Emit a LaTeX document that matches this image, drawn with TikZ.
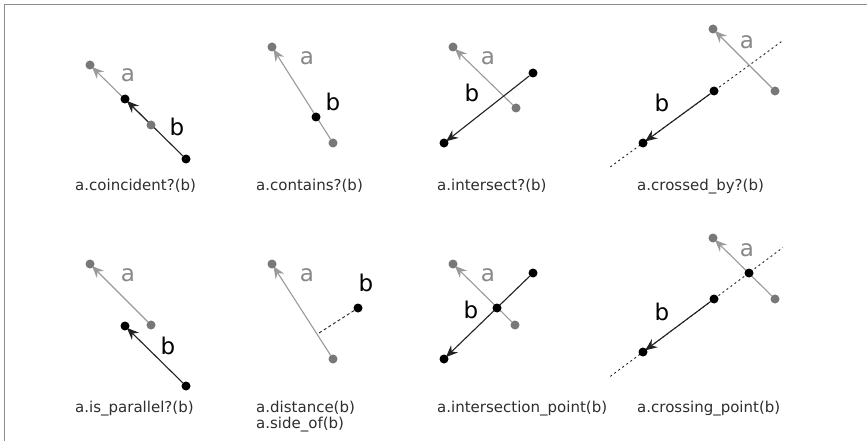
\documentclass[tikz,border=0pt]{standalone}
\usepackage{fontspec}
\setmainfont{DejaVu Sans}
\usetikzlibrary{arrows.meta,calc}
\definecolor{lgray}{HTML}{9A9A9A}
\definecolor{dgray}{HTML}{787878}
\definecolor{agray}{HTML}{888888}
\definecolor{bblack}{HTML}{222222}
\definecolor{framec}{HTML}{8C8C8C}
\pgfdeclarelayer{bg}
\pgfdeclarelayer{paper}
\pgfsetlayers{paper,bg,main}
\begin{document}
\begin{tikzpicture}[x=1pt,y=-1pt,
 gdot/.style={circle,fill=dgray,inner sep=0pt,minimum size=9pt},
 bdot/.style={circle,fill=black,inner sep=0pt,minimum size=9pt},
 aline/.style={draw=lgray,line width=1.1pt},
 bline/.style={draw=bblack,line width=1.1pt},
 atip/.style={-{Stealth[length=12pt,width=10pt,inset=4pt]},shorten >=-2pt},
 albl/.style={text=agray,font=\fontsize{23}{23}\selectfont,inner sep=0pt},
 blbl/.style={text=black,font=\fontsize{23}{23}\selectfont,inner sep=0pt},
 captxt/.style={anchor=base west,font=\fontsize{15}{16}\selectfont,text=black!82,inner sep=0pt},
 dotln/.style={draw=bblack,line width=0.9pt,dash pattern=on 2pt off 3pt}]
\useasboundingbox (0,0) rectangle (867,441);
\begin{pgfonlayer}{paper}
\fill[white] (0,0) rectangle (867,441);
\draw[framec,line width=1.3pt] (4.5,441) -- (4.5,4.5) -- (867,4.5);
\end{pgfonlayer}

% Panel 1: coincident
\node[gdot] (a1s) at (151,125) {};
\node[gdot] (a1e) at (90,65) {};
\node[bdot] (b1s) at (186,159) {};
\node[bdot] (b1e) at (125,99) {};
\begin{pgfonlayer}{bg}
\draw[aline,atip] (a1s) -- (a1e);
\draw[bline,atip] (b1s) -- (b1e);
\end{pgfonlayer}
\node[albl] (la1) at (128,75) {a};
\node[blbl] (lb1) at (177,127) {b};
\node[captxt] (c1) at (75,190) {a.coincident?(b)};

% Panel 2: contains
\node[gdot] (a2s) at (333,143) {};
\node[gdot] (a2e) at (272,47) {};
\node[bdot] (b2) at (316,117) {};
\begin{pgfonlayer}{bg}
\draw[aline,atip] (a2s) -- (a2e);
\end{pgfonlayer}
\node[albl] (la2) at (307,58) {a};
\node[blbl] (lb2) at (333,102) {b};
\node[captxt] (c2) at (256,190) {a.contains?(b)};

% Panel 3: intersect
\node[gdot] (a3s) at (516,108) {};
\node[gdot] (a3e) at (453,47) {};
\node[bdot] (b3s) at (533,73) {};
\node[bdot] (b3e) at (444,143) {};
\begin{pgfonlayer}{bg}
\draw[aline,atip] (a3s) -- (a3e);
\draw[bline,atip] (b3s) -- (b3e);
\end{pgfonlayer}
\node[albl] (la3) at (488,58) {a};
\node[blbl] (lb3) at (472,93) {b};
\node[captxt] (c3) at (437,190) {a.intersect?(b)};

% Panel 4: crossed_by
\node[gdot] (a4s) at (775,91) {};
\node[gdot] (a4e) at (713,29) {};
\node[bdot] (b4s) at (714,91) {};
\node[bdot] (b4e) at (643,143) {};
\coordinate (d4s) at ($(b4s)!1.46!(b4e)$);
\coordinate (d4e) at ($(b4e)!1.97!(b4s)$);
\begin{pgfonlayer}{bg}
\draw[dotln] (d4s) -- (d4e);
\draw[aline,atip] (a4s) -- (a4e);
\draw[bline,atip] (b4s) -- (b4e);
\end{pgfonlayer}
\node[albl] (la4) at (747,42) {a};
\node[blbl] (lb4) at (662,103) {b};
\node[captxt] (c4) at (637,190) {a.crossed\_by?(b)};

% Panel 5: is_parallel
\node[gdot] (a5s) at (151,325) {};
\node[gdot] (a5e) at (90,264) {};
\node[bdot] (b5s) at (186,386) {};
\node[bdot] (b5e) at (125,326) {};
\begin{pgfonlayer}{bg}
\draw[aline,atip] (a5s) -- (a5e);
\draw[bline,atip] (b5s) -- (b5e);
\end{pgfonlayer}
\node[albl] (la5) at (128,275) {a};
\node[blbl] (lb5) at (168,346) {b};
\node[captxt] (c5) at (75,412) {a.is\_parallel?(b)};

% Panel 6: distance / side_of
\node[gdot] (a6s) at (333,359) {};
\node[gdot] (a6e) at (272,264) {};
\node[bdot] (b6) at (358,308) {};
\coordinate (f6) at ($(a6s)!(b6)!(a6e)$);
\begin{pgfonlayer}{bg}
\draw[aline,atip] (a6s) -- (a6e);
\draw[dotln,dash pattern=on 3pt off 2.5pt] (b6) -- (f6);
\end{pgfonlayer}
\node[albl] (la6) at (307,275) {a};
\node[blbl] (lb6) at (366,283) {b};
\node[captxt] (c6) at (256,412) {a.distance(b)};
\node[captxt] (c6b) at (256,428) {a.side\_of(b)};

% Panel 7: intersection_point
\node[gdot] (a7s) at (515,325) {};
\node[gdot] (a7e) at (453,264) {};
\node[bdot] (b7s) at (533,273) {};
\node[bdot] (b7e) at (444,359) {};
\node[bdot] (p7) at (497,308) {};
\begin{pgfonlayer}{bg}
\draw[aline,atip] (a7s) -- (a7e);
\draw[bline,atip] (b7s) -- (b7e);
\end{pgfonlayer}
\node[albl] (la7) at (488,275) {a};
\node[blbl] (lb7) at (471,310) {b};
\node[captxt] (c7) at (437,412) {a.intersection\_point(b)};

% Panel 8: crossing_point
\node[gdot] (a8s) at (775,299) {};
\node[gdot] (a8e) at (713,238) {};
\node[bdot] (b8s) at (714,299) {};
\node[bdot] (b8e) at (643,352) {};
\node[bdot] (p8) at (749,273) {};
\coordinate (d8s) at ($(b8s)!1.46!(b8e)$);
\coordinate (d8e) at ($(b8e)!1.97!(b8s)$);
\begin{pgfonlayer}{bg}
\draw[dotln] (d8s) -- (d8e);
\draw[aline,atip] (a8s) -- (a8e);
\draw[bline,atip] (b8s) -- (b8e);
\end{pgfonlayer}
\node[albl] (la8) at (747,250) {a};
\node[blbl] (lb8) at (662,312) {b};
\node[captxt] (c8) at (637,412) {a.crossing\_point(b)};
\end{tikzpicture}
\end{document}
